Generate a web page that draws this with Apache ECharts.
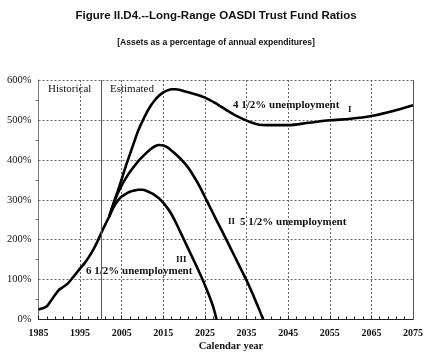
<!DOCTYPE html>
<html><head><meta charset="utf-8">
<script src="https://cdn.jsdelivr.net/npm/echarts@6/dist/echarts.min.js"></script>
<style>html,body{margin:0;padding:0;background:#fff}#c{width:432px;height:355px}</style>
</head><body><div id="c"></div>
<script>
// Historical (shared) trust fund ratio, 1985-2002
const histYears = [1985,1986,1987,1988,1989,1990,1991,1992,1993,1994,1995,1996,1997,1998,1999,2000,2001,2002];
const histVals  = [25,28,33,47,62,75,82,90,102,115,128,140,155,172,192,215,237,258];
// Alternative I: 4 1/2% unemployment
const altIYears = [2002,2003,2004,2005,2006,2007,2008,2009,2010,2011,2012,2013,2014,2015,2016,2017,2018,2019,2020,2022,2024,2026,2028,2030,2032,2034,2036,2038,2040,2045,2050,2055,2060,2065,2070,2075];
const altIVals  = [258,290,320,352,385,415,445,474,497,518,536,550,561,569,574,577,577,575,572,566,560,551,539,526,513,503,494,488,487,487,493,499,503,510,522,537];
// Alternative II: 5 1/2% unemployment
const altIIYears = [2002,2003,2004,2005,2006,2007,2008,2009,2010,2011,2012,2013,2014,2015,2016,2017,2018,2019,2020,2021,2022,2023,2024,2025,2026,2027,2028,2029,2030,2031,2032,2033,2034,2035,2036,2037,2038,2039];
const altIIVals  = [258,289,315,336,354,370,384,397,408,418,427,434,437,436,431,423,414,404,393,380,364,347,328,307,286,265,244,224,203,182,161,140,119,98,75,51,26,0];
// Alternative III: 6 1/2% unemployment
const altIIIYears = [2002,2003,2004,2005,2006,2007,2008,2009,2010,2011,2012,2013,2014,2015,2016,2017,2018,2019,2020,2021,2022,2023,2024,2025,2026,2027,2027.8];
const altIIIVals  = [258,280,297,308,315,320,323,325,325,322,317,311,303,292,279,263,243,221,199,177,155,133,110,86,60,31,0];
const yTicks = [0,100,200,300,400,500,600];

const pairs = (xs, ys) => xs.map((x, i) => [x, ys[i]]);
const serif = '"Liberation Serif","Times New Roman",serif';
const sans = '"Liberation Sans",Arial,sans-serif';
const lineStyle = {color:'#000', width:2.6};

const chart = echarts.init(document.getElementById('c'), null, {renderer:'canvas'});
chart.setOption({
  animation:false,
  backgroundColor:'#fff',
  grid:{left:38.5, right:19, top:80, bottom:35.5, containLabel:false},
  xAxis:{
    type:'value', min:1985, max:2075, interval:10,
    axisLine:{show:true, lineStyle:{color:'#222', width:1}},
    axisTick:{show:true, inside:true, length:4, lineStyle:{color:'#222'}},
    minorTick:{show:true, splitNumber:5, length:3, lineStyle:{color:'#222'}},
    axisLabel:{fontFamily:serif, fontWeight:'bold', fontSize:10, color:'#111', margin:9, formatter:v=>String(v)},
    splitLine:{show:true, lineStyle:{color:'#666', type:[2,2], width:1}}
  },
  yAxis:{
    type:'value', min:yTicks[0], max:yTicks[yTicks.length-1], interval:100,
    axisLine:{show:true, lineStyle:{color:'#777', width:1}},
    axisTick:{show:false},
    minorTick:{show:true, splitNumber:2, length:3, lineStyle:{color:'#777'}},
    axisLabel:{fontFamily:serif, fontSize:10.5, color:'#111', margin:7, formatter:'{value}%'},
    splitLine:{show:true, lineStyle:{color:'#666', type:[2,2], width:1}}
  },
  series:[
    {type:'line', data:pairs(histYears, histVals), smooth:0.3, symbol:'none', lineStyle,
     markLine:{silent:true, symbol:'none', label:{show:false}, lineStyle:{color:'#555', type:'solid', width:1},
       data:[[{coord:[2000,0]},{coord:[2000,600]}], [{coord:[2075,0]},{coord:[2075,600]}]]}},
    {type:'line', data:pairs(altIYears, altIVals), smooth:0.3, symbol:'none', lineStyle},
    {type:'line', data:pairs(altIIYears, altIIVals), smooth:0.3, symbol:'none', lineStyle},
    {type:'line', data:pairs(altIIIYears, altIIIVals), smooth:0.3, symbol:'none', lineStyle}
  ],
  graphic:[
    {type:'text', left:'center', top:10, style:{text:'Figure II.D4.--Long-Range OASDI Trust Fund Ratios', font:'bold 11.5px '+sans, fill:'#111'}},
    {type:'text', left:'center', top:38, style:{text:'[Assets as a percentage of annual expenditures]', font:'bold 8.6px '+sans, fill:'#111'}},
    {type:'text', x:48, y:89, style:{text:'Historical', font:'11px '+serif, fill:'#111', verticalAlign:'middle'}},
    {type:'text', x:110, y:89, style:{text:'Estimated', font:'11px '+serif, fill:'#111', verticalAlign:'middle'}},
    {type:'text', x:233, y:105, style:{text:'4 1/2% unemployment', font:'bold 11px '+serif, fill:'#111', verticalAlign:'middle'}},
    {type:'text', x:348, y:110, style:{text:'I', font:'bold 9px '+serif, fill:'#111', verticalAlign:'middle'}},
    {type:'text', x:228, y:222, style:{text:'II', font:'bold 9px '+serif, fill:'#111', verticalAlign:'middle'}},
    {type:'text', x:240, y:222, style:{text:'5 1/2% unemployment', font:'bold 11px '+serif, fill:'#111', verticalAlign:'middle'}},
    {type:'text', x:176, y:260, style:{text:'III', font:'bold 9px '+serif, fill:'#111', verticalAlign:'middle'}},
    {type:'text', x:86, y:271, style:{text:'6 1/2% unemployment', font:'bold 11px '+serif, fill:'#111', verticalAlign:'middle'}},
    {type:'text', x:231, y:346, style:{text:'Calendar year', font:'bold 10.5px '+serif, fill:'#111', align:'center', verticalAlign:'middle'}}
  ]
});
</script></body></html>
